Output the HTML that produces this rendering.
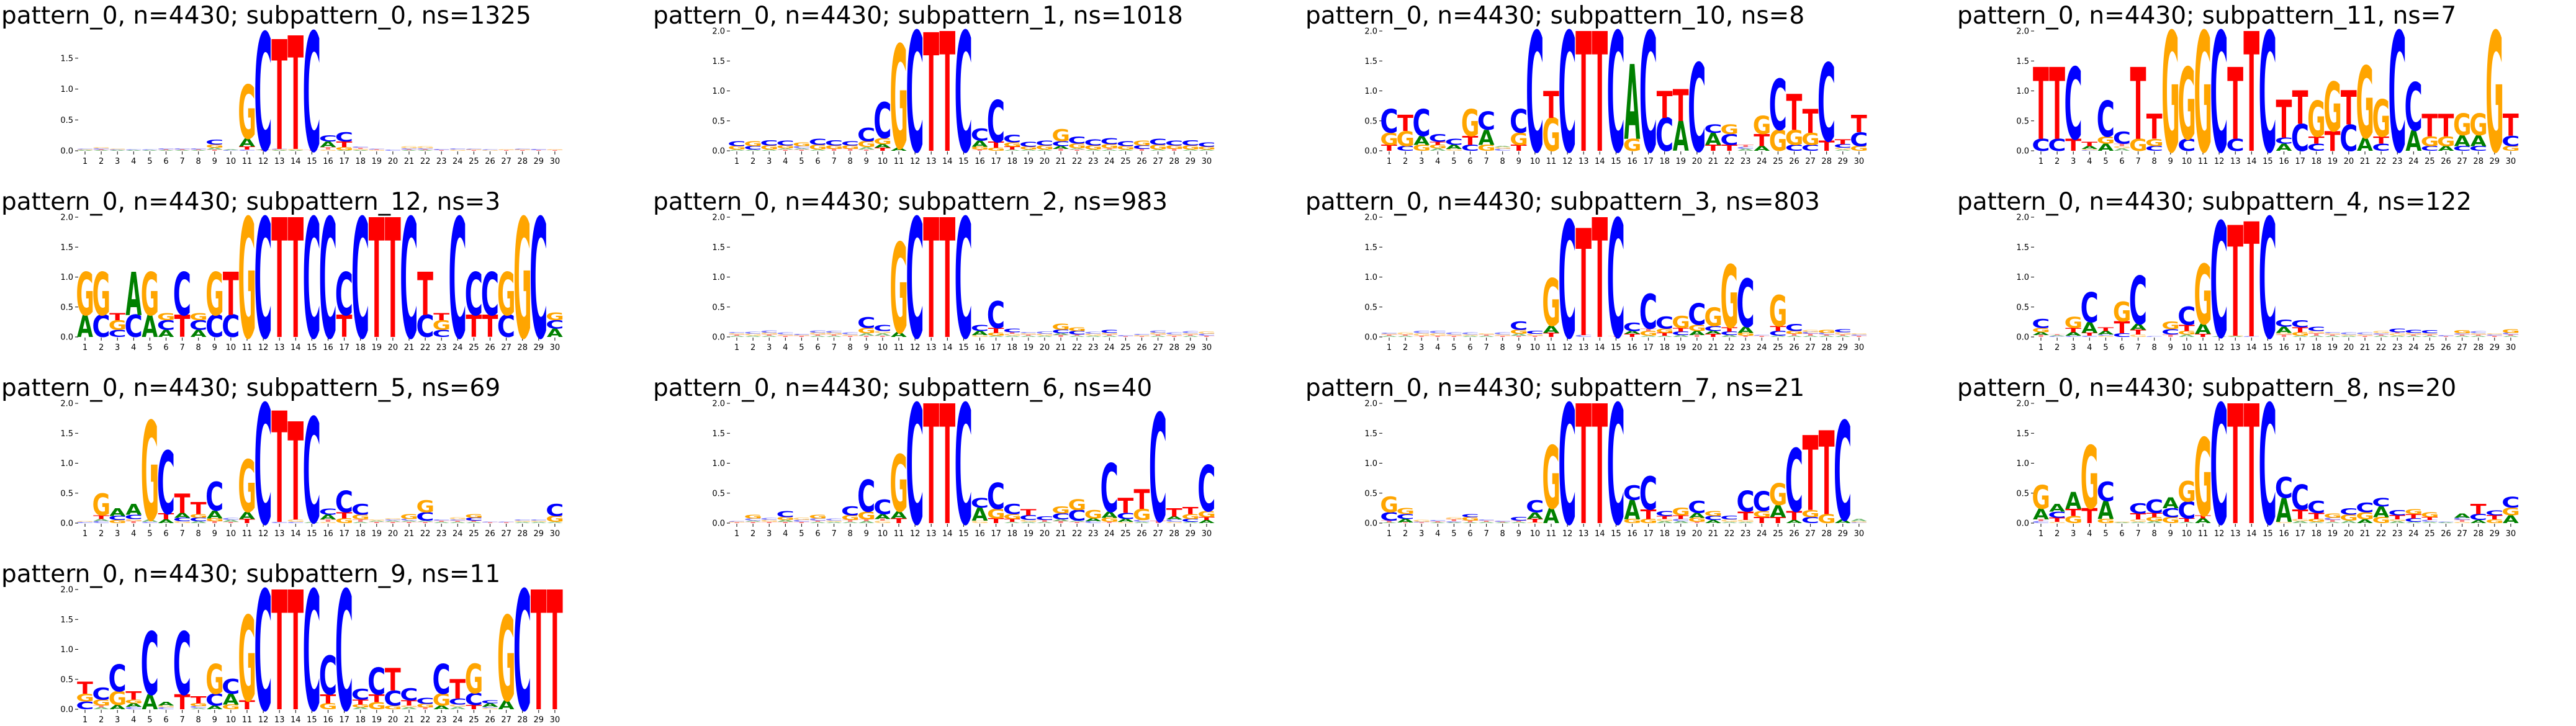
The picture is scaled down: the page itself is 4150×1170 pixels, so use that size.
<!DOCTYPE html>
<html><head><meta charset="utf-8"><style>
html,body{margin:0;padding:0;background:#fff;}
svg{display:block;}
</style></head><body>
<svg id="fig" width="4150" height="1170" viewBox="0 0 4150 1170" xmlns="http://www.w3.org/2000/svg"></svg>
<script>
const titles = [
"pattern_0, n=4430; subpattern_0, ns=1325","pattern_0, n=4430; subpattern_1, ns=1018","pattern_0, n=4430; subpattern_10, ns=8","pattern_0, n=4430; subpattern_11, ns=7",
"pattern_0, n=4430; subpattern_12, ns=3","pattern_0, n=4430; subpattern_2, ns=983","pattern_0, n=4430; subpattern_3, ns=803","pattern_0, n=4430; subpattern_4, ns=122",
"pattern_0, n=4430; subpattern_5, ns=69","pattern_0, n=4430; subpattern_6, ns=40","pattern_0, n=4430; subpattern_7, ns=21","pattern_0, n=4430; subpattern_8, ns=20",
"pattern_0, n=4430; subpattern_9, ns=11"];
const panelNames = ["sp0","sp1","sp10","sp11","sp12","sp2","sp3","sp4","sp5","sp6","sp7","sp8","sp9"];
const yMaxes = [1.94,2,2,2,2,2,2,2,2,2,2,2,2];
const yTickValues = [0,0.5,1.0,1.5,2.0];
const xTickLabels = ["1","2","3","4","5","6","7","8","9","10","11","12","13","14","15","16","17","18","19","20","21","22","23","24","25","26","27","28","29","30"];

const sp0 = ["A.01 G.01 C.01","A.01 T.01 C.02 G.02","A.01 C.01 G.01","A.01 C.01","A.01 C.01","A.01 T.01 C.02","A.01 T.01 C.02","A.01 T.01 C.02","T.02 A.03 G.05 C.08","C.01 A.01","C.02 T.05 A.13 G.87","T.01 A.01 C1.9","A.01 G.01 C.01 T1.78","A.01 G.02 T1.84","T.01 C1.92","G.02 T.04 A.09 C.1","A.01 G.05 T.09 C.15","A.01 G.02 T.02 C.02","G.01 T.01 C.01","C.02","A.01 T.01 C.02 G.03","A.01 T.01 C.02 G.03","T.01 C.02","G.02 C.02","T.01 G.01 C.01","G.01 C.01","T.01 G.01","T.01 G.01 C.01","T.01 C.02","T.01 G.01"];
const sp1 = ["A.02 G.06 C.08","A.02 C.06 G.08","A.02 G.07 C.09","T.02 A.02 G.05 C.08","T.02 A.02 C.04 G.06","A.02 G.08 C.1","T.03 G.06 C.09","T.03 G.06 C.07","T.02 A.04 G.1 C.22","T.05 A.06 G.1 C.6","A.05 G1.73","C2.0","T1.98","T2.0","C2.0","T.02 G.05 A.1 C.2","G.05 T.1 C.7","A.02 T.05 G.07 C.13","A.02 G.05 C.08","A.02 G.07 C.08","T.03 A.05 C.08 G.2","T.02 A.02 G.08 C.12","A.02 G.07 C.1","A.02 T.02 G.07 C.1","A.02 G.06 C.08","T.03 C.06 G.08","A.02 G.08 C.1","T.03 G.06 C.08","A.02 G.07 C.09","A.02 G.05 C.07"];
const sp10 = ["T.1 G.2 C.4","C.08 G.25 T.27","G.1 A.15 C.45","A.04 G.06 T.05 C.13","G.03 A.07 C.1","C.1 T.15 G.45","G.1 A.25 C.3","C.03 G.03 A.02","T.1 G.2 C.4","C2.0","G.55 T.45","C2.0","T2.0","T2.0","C2.0","G.2 A1.25","C2.0","C.55 T.45","A.5 T.53","C1.47","T.1 A.2 C.14","T.1 C.18 G.16","A.03 C.03 T.04","A.08 T.2 G.3","G.35 C.85","C.1 G.25 T.6","C.1 G.2 T.4","T.17 C1.3","A.02 G.03 C.06 T.08","G.08 C.23 T.29"];
const sp11 = ["C.2 T1.2","C.2 T1.2","T.2 C1.2","C.01 G.02 A.05 T.07","A.12 G.12 C.6","A.04 G.04 T.04 C.2","G.2 T1.2","C.08 G.12 T.42","G2.0","C.2 G1.2","G2.0","C2.0","C.2 T1.2","T2.0","C2.0","A.12 C.1 T.63","C.45 T.56","C.12 T.12 G.6","T.33 G.82","C.44 T.57","A.22 G1.2","C.12 T.12 G.62","C2.0","A.34 C.8","C.08 G.16 T.38","A.08 G.16 T.38","C.08 A.18 G.36","C.08 A.18 G.36","G2.0","G.08 C.17 T.37"];
const sp12 = ["A.37 G.72","C.37 G.72","C.12 G.16 T.12","C.37 A.72","A.37 G.72","A.12 C.16 G.12","T.37 C.72","A.12 C.16 G.12","C.37 G.72","C.37 T.72","G2.0","C2.0","T2.0","T2.0","C2.0","C2.0","T.37 C.72","C2.0","T2.0","T2.0","C2.0","C.37 T.72","C.12 G.16 T.12","C2.0","T.37 C.72","T.37 C.72","C.37 G.72","G2.0","C2.0","A.14 C.14 G.13"];
const sp2 = ["A.02 T.02 G.02 C.02","A.02 G.03 C.03","A.02 T.02 G.03 C.04","T.02 G.02 C.03","T.02 G.01 C.02","A.02 T.02 G.03 C.04","A.02 T.02 G.03 C.03","T.02 G.02 C.03","T.02 A.04 G.09 C.18","T.02 A.04 G.04 C.1","A.08 G1.5","C2.0","T2.0","T2.0","C2.0","G.03 A.07 C.1","A.02 G.05 T.08 C.45","A.02 G.03 T.03 C.06","A.02 T.02 G.02 C.02","A.02 G.03 C.04","T.03 A.03 C.06 G.1","A.02 T.02 C.06 G.06","A.02 G.03 C.03","A.02 T.02 G.03 C.05","T.01 C.02","T.01 G.02 C.02","A.02 T.02 G.03 C.04","T.02 G.02 C.03","A.02 T.02 G.02 C.03","T.02 C.03 G.04"];
const sp3 = ["A.02 T.02 G.01 C.02","A.02 T.02 G.03","T.02 G.04 C.04","T.02 G.04 C.04","T.02 G.02 C.03","A.02 G.02 C.03","A.02 T.02 G.02","T.02 G.02 C.03","T.02 A.03 G.07 C.14","T.02 G.03 C.05","T.07 A.12 G.79","C1.95","C.03 T1.79","T2.0","T.01 C1.97","T.05 A.05 C.14","A.02 G.08 T.04 C.58","A.02 T.05 G.07 C.2","A.03 C.06 T.06 G.2","T.03 A.07 G.1 C.36","T.05 A.05 C.08 G.31","A.03 C.06 T.07 G1.05","T.02 G.05 A.1 C.8","T.02 C.01","A.02 C.08 T.08 G.52","A.02 T.03 G.05 C.12","A.02 T.03 C.03 G.04","A.02 T.02 C.03 G.05","A.02 T.02 G.04 C.05","T.02 C.02 G.02"];
const sp4 = ["T.03 A.05 G.07 C.15","C.01 A.02 T.01","C.02 A.06 T.07 G.19","C.02 T.05 A.18 C.5","G.02 C.02 A.06 T.06","C.06 T.2 G.33","G.04 T.08 A.1 C.8","C.01","T.04 C.09 G.13","A.04 G.06 T.1 C.3","T.05 A.17 G1.0","A.01 C1.92","A.01 G.01 T1.85","C.01 T1.92","C2.0","T.04 G.03 A.1 C.12","A.02 G.06 T.08 C.12","A.02 T.04 G.04 C.07","A.02 T.02 G.02 C.02","A.02 G.02 C.03","T.02 G.02 C.03","A.02 T.02 C.02 G.04","A.02 G.04 T.02 C.06","A.02 T.02 G.03 C.05","A.02 T.02 G.02 C.05","T.01 C.02","A.02 T.02 C.02 G.05","A.02 T.02 G.02 C.03","T.02 C.02 G.02","A.02 T.02 C.03 G.06"];
const sp5 = ["C.02 G.01","C.03 A.04 T.06 G.36","G.05 C.07 A.13","T.03 G.04 C.07 A.18","C.02 A.04 G1.65","A.06 T.1 C1.05","G.03 C.06 A.08 T.32","A.03 C.06 G.06 T.2","T.03 G.05 A.13 C.48","T.02 A.03 C.03","T.07 A.12 G.87","C2.0","C.02 T1.86","C.02 G.04 T1.64","A.02 C1.75","G.02 T.04 A.08 C.1","G.08 T.1 C.36","A.02 T.04 G.08 C.18","T.02 A.02 G.02","T.02 A.02 C.02 G.02","T.02 A.02 C.03 G.08","T.02 A.02 C.14 G.2","A.02 T.02 C.02","A.02 T.02 C.02 G.03","A.02 T.02 C.05 G.06","T.01 C.01","T.01 C.01","A.02 G.02 C.02","A.02 G.02 C.02","A.02 G.1 C.2"];
const sp6 = ["T.01 G.01 C.01","T.02 A.02 C.04 G.06","T.02 G.03 C.03","T.02 A.03 G.05 C.1","T.02 C.03 G.04","A.02 T.02 C.04 G.06","A.02 G.02 C.03","A.02 T.03 G.08 C.15","A.03 T.03 G.13 C.53","G.04 T.03 A.08 C.24","T.08 A.12 G.95","C2.0","T2.0","T2.0","C2.0","G.04 A.22 C.16","T.08 G.16 C.44","A.02 T.05 G.08 C.17","A.02 G.03 C.08 T.1","A.02 T.03 C.06","T.03 A.03 C.1 G.12","T.02 A.02 C.18 G.18","C.03 A.05 G.14","T.02 G.07 A.1 C.81","G.02 A.05 C.1 T.25","A.02 C.03 G.19 T.33","T.04 C1.8","G.02 C.04 A.05 T.14","A.02 C.05 G.08 T.12","A.05 T.05 G.1 C.77"];
const sp7 = ["A.01 T.03 C.14 G.26","T.01 A.06 C.08 G.1","T.01 C.01 G.03","A.01 T.02 C.02","A.01 C.02 T.03 G.03","A.01 T.03 G.06 C.05","A.02 T.02 C.02","A.01 T.01 C.02","A.02 T.02 C.06","G.01 T.06 A.11 C.2","A.25 G1.05","C2.0","T2.0","T2.0","C2.0","G.07 A.32 C.24","G.07 T.16 C.55","A.03 G.04 T.05 C.08","A.03 C.04 T.06 G.13","T.02 G.07 A.08 C.2","A.05 C.07 G.08","A.02 G.04 C.06","A.02 G.03 T.14 C.35","T.1 G.1 C.33","T.1 A.2 G.36","A.05 T.15 C1.05","C.1 G.12 T1.25","G.15 T1.4","A.06 C1.65","C.01 G.02 A.04"];
const sp8 = ["C.03 T.03 A.18 G.4","G.02 T.07 C.1 A.13","G.12 T.12 A.28","T.25 G1.05","G.07 A.3 C.32","A.01 G.01","A.02 G.04 T.1 C.17","A.03 G.07 T.07 C.22","G.1 C.15 A.18","A.02 T.06 C.28 G.34","A.08 T.05 G1.3","C2.0","T2.0","T2.0","C2.0","G.02 A.4 C.35","A.03 G.04 T.16 C.42","A.02 G.05 T.1 C.2","A.02 T.03 C.04 G.07","A.04 G.1 C.11","A.06 G.12 C.16","G.1 A.18 C.14","A.03 G.03 T.07 C.09","A.02 C.06 T.07 G.08","A.02 C.03 T.05 G.08","A.01 C.01","G.02 T.03 C.04 A.07","A.05 C.1 T.17","G.06 T.07 C.08","A.13 G.13 C.18"];
const sp9 = ["C.13 G.13 T.2","A.03 T.03 G.1 C.2","A.07 G.23 C.45","C.04 A.06 G.06 T.14","A.25 C1.05","C.03 G.03 A.06","T.25 C1.05","A.02 C.03 G.05 T.12","A.06 C.2 G.5","G.08 A.18 C.25","T.15 G1.42","C2.0","T2.0","T2.0","C2.0","G.1 T.15 C.65","C2.0","A.03 G.05 T.08 C.18","G.12 T.13 C.45","G.06 C.25 T.38","A.03 G.03 T.09 C.2","T.03 G.06 C.1","A.06 G.2 C.5","A.04 G.04 C.1 T.32","T.07 C.2 G.49","G.02 C.02 A.06 C.05","A.15 G1.42","C2.0","T2.0","T2.0"];

const panelData = {sp0,sp1,sp10,sp11,sp12,sp2,sp3,sp4,sp5,sp6,sp7,sp8,sp9};

const NS = "http://www.w3.org/2000/svg";
const svg = document.getElementById('fig');
const colors = {A:"#008000",C:"#0000ff",G:"#ffa500",T:"#ff0000"};
const ink = {A:[0.005,0.765],C:[0.05,0.64],G:[0.05,0.71],T:[0.005,0.675]};
const CAP = 72.9;
const colX = [0,1050,2101,3151];
const rowY = [0,300,600,900];
const FIRST = 137, STEP = 26.1, LW = 25.6, PLOT_H = 193, Y0OFF = 243;

function mk(tag, attrs, parent){
  const e = document.createElementNS(NS, tag);
  for (const k in attrs) e.setAttribute(k, attrs[k]);
  parent.appendChild(e);
  return e;
}
function parseStack(s){
  return s.split(" ").map(t => [t[0], parseFloat(t.slice(1))]);
}

panelNames.forEach((pn, p) => {
  const ox = colX[p % 4], oy = rowY[Math.floor(p / 4)];
  const ymax = yMaxes[p];
  const y0 = oy + Y0OFF;
  const yS = v => y0 - v / ymax * PLOT_H;
  const xS = i => ox + FIRST + i * STEP;
  const g = mk('g', {}, svg);
  
  

  const t = mk('text', {x: ox + 2, y: oy + 38, 'font-family': 'DejaVu Sans, sans-serif', 'font-size': 39, fill: '#000'}, g);
  
  
  t.textContent = titles[p];

  yTickValues.forEach(v => {
    if (v > ymax + 1e-6) return;
    const yy = yS(v);
    const ln = mk('line', {x1: ox + 121, x2: ox + 126, y1: yy, y2: yy, stroke: '#000', 'stroke-width': 1}, g);
    
    
    const lb = mk('text', {x: ox + 118, y: yy + 4.5, 'text-anchor': 'end', 'font-family': 'DejaVu Sans, sans-serif', 'font-size': 13, fill: '#000'}, g);
    
    
    lb.textContent = v.toFixed(1);
  });

  xTickLabels.forEach((lab, i) => {
    const xx = xS(i);
    const ln = mk('line', {x1: xx, x2: xx, y1: y0 + 1, y2: y0 + 6, stroke: '#000', 'stroke-width': 1}, g);
    
    
    const lb = mk('text', {x: xx, y: y0 + 21, 'text-anchor': 'middle', 'font-family': 'DejaVu Sans, sans-serif', 'font-size': 13, fill: '#000'}, g);
    
    
    lb.textContent = lab;
  });

  panelData[pn].forEach((s, i) => {
    let base = 0;
    const left = xS(i) - LW / 2;
    parseStack(s).forEach(([L, h]) => {
      const yb = yS(base), yt = yS(base + h);
      const hh = yb - yt;
      base += h;
      if (hh <= 0.3) return;
      const [il, iw] = ink[L];
      const sx = LW / (iw * 100), sy = hh / CAP;
      const tx = left - il * 100 * sx;
      const el = mk('text', {transform: `translate(${tx.toFixed(2)},${yb.toFixed(2)}) scale(${sx.toFixed(4)},${sy.toFixed(4)})`, 'font-family': 'DejaVu Sans, sans-serif', 'font-weight': 'bold', 'font-size': 100, fill: colors[L], opacity: h < 0.05 ? 0.5 : 1}, g);
      
      
      el.textContent = L;
    });
  });
});
</script>
</body></html>
